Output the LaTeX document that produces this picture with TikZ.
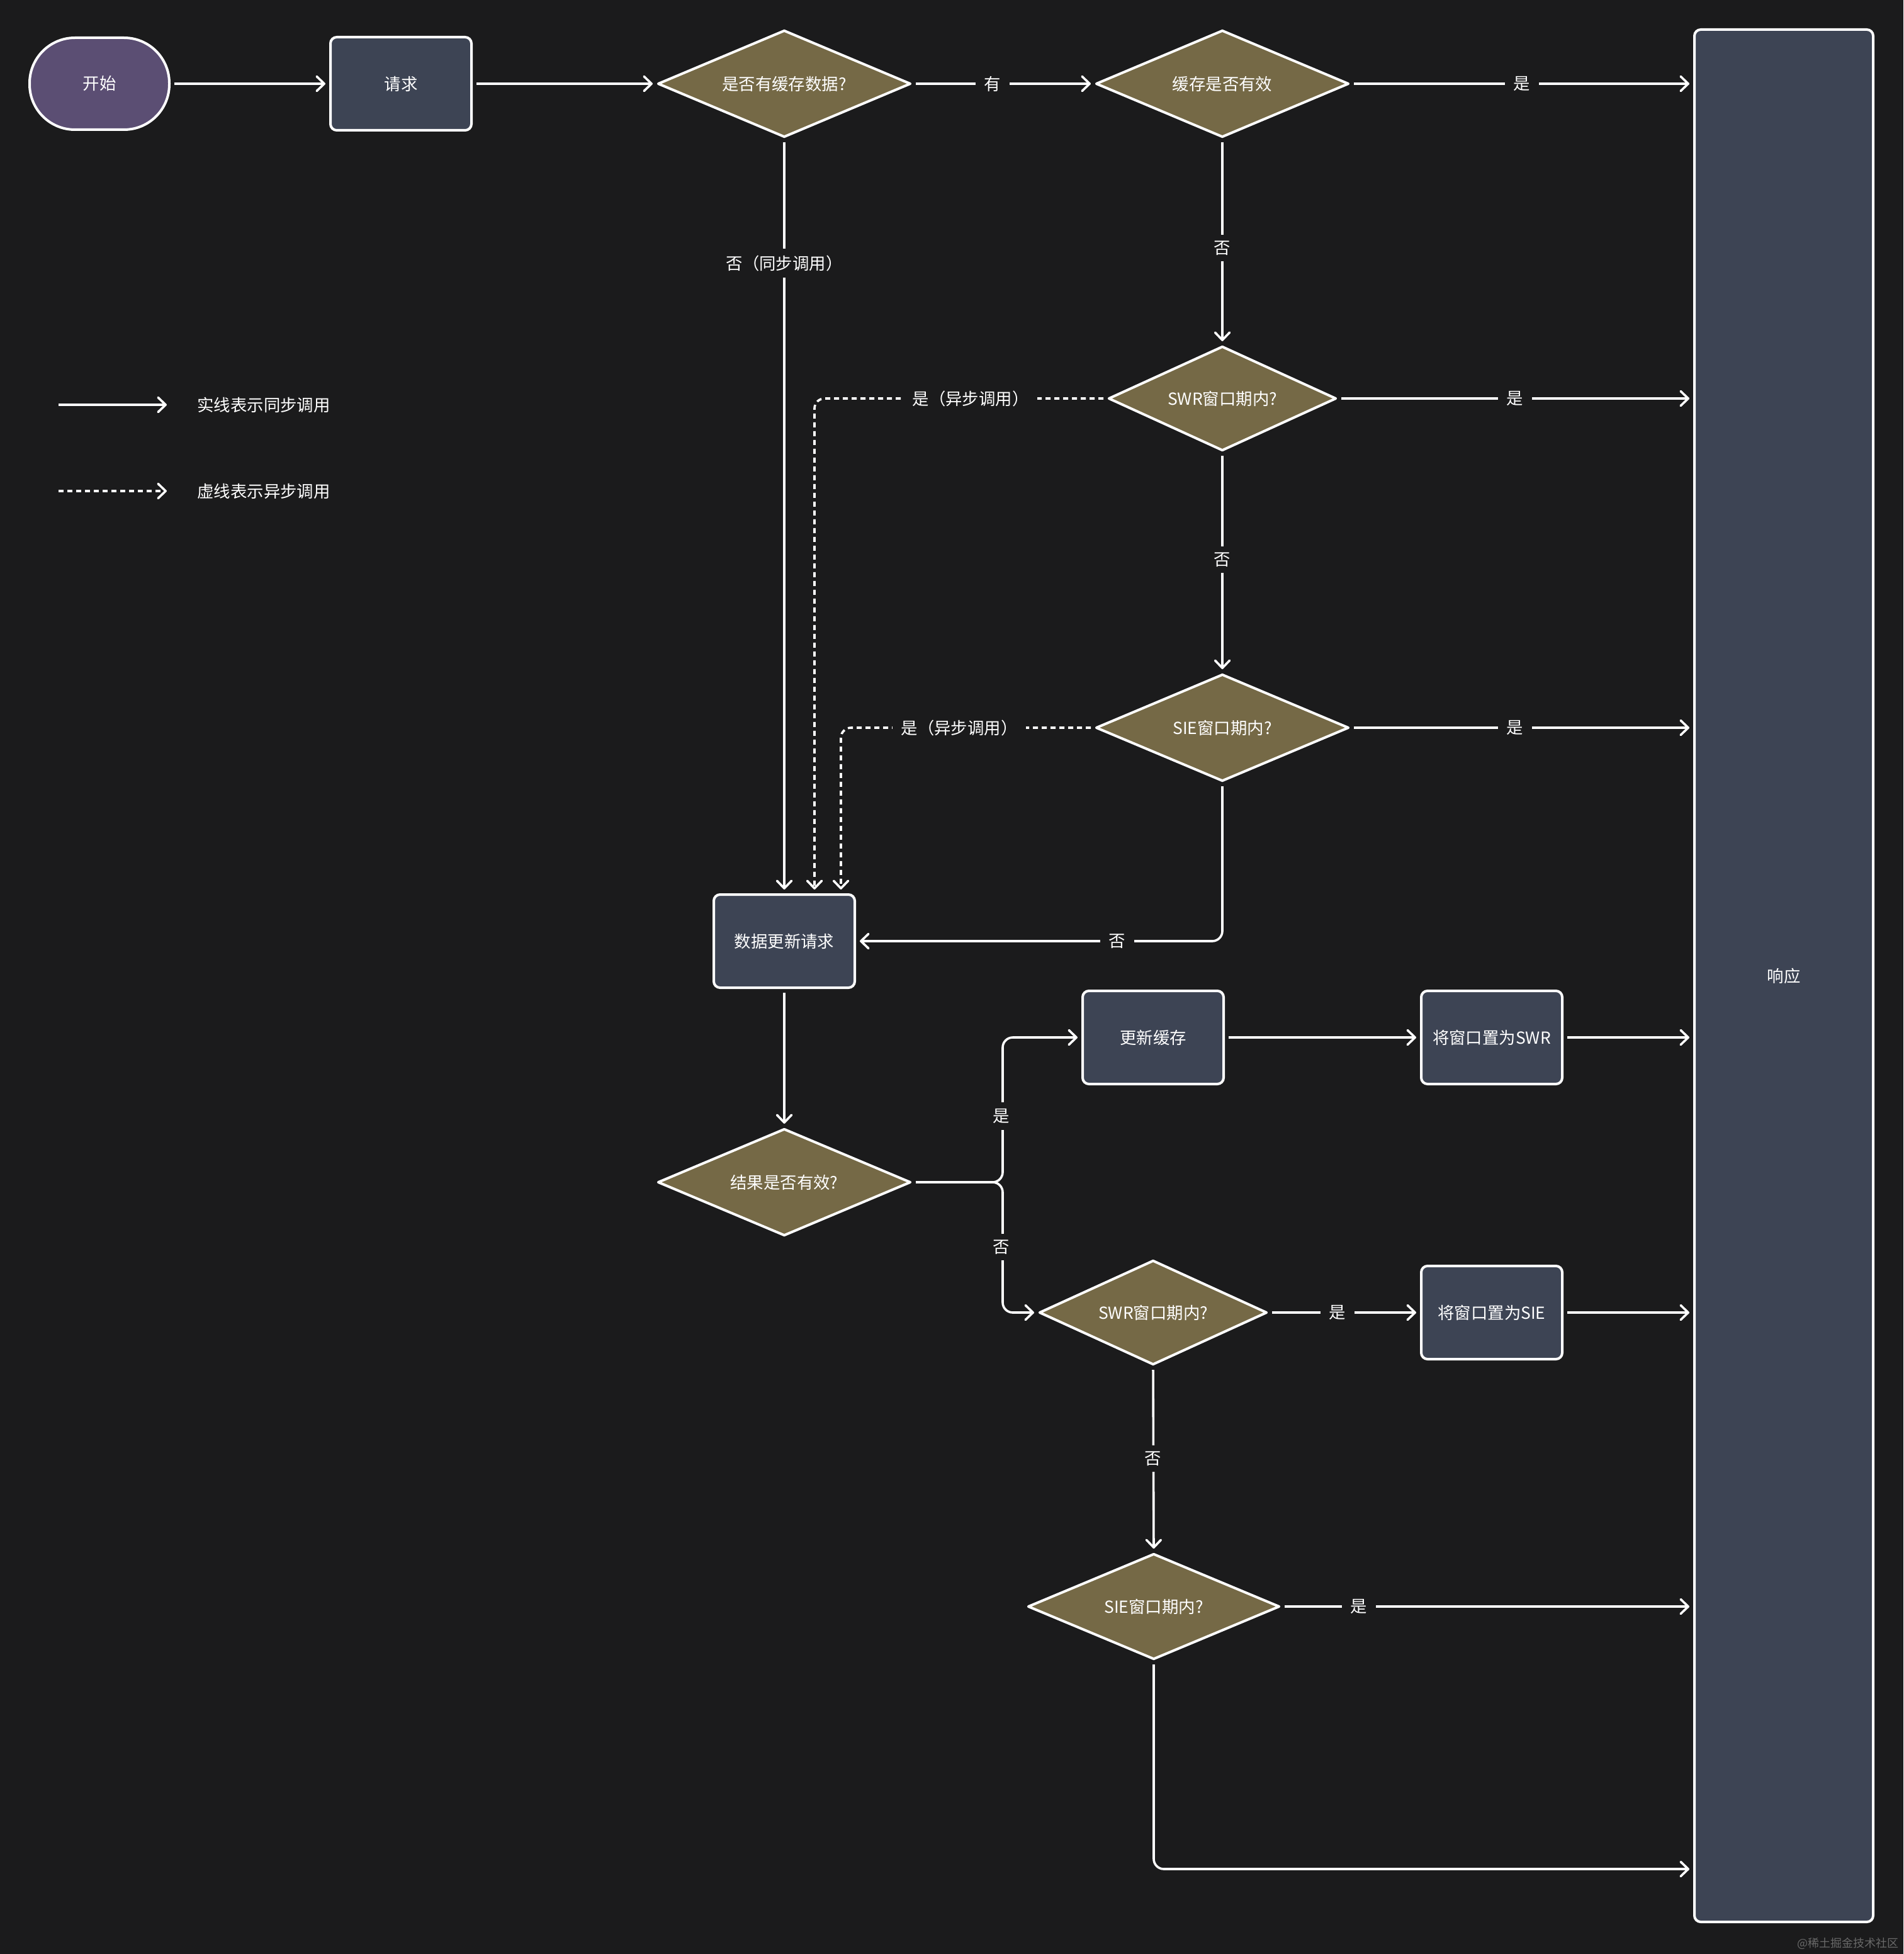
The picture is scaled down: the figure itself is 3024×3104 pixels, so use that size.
\documentclass[tikz,border=0pt]{standalone}
\usepackage{fontspec}
\setmainfont{Noto Sans CJK SC}
\usetikzlibrary{shapes.geometric,arrows.meta,calc}
\definecolor{bgc}{RGB}{27,27,28}
\definecolor{boxc}{RGB}{61,68,84}
\definecolor{diac}{RGB}{117,105,70}
\definecolor{startc}{RGB}{91,78,115}
\definecolor{wmc}{RGB}{105,105,105}
\begin{document}
\begin{tikzpicture}[x=0.5pt,y=-0.5pt,
 txt/.style={text=white,font=\fontsize{13.2}{15}\selectfont},
 boxn/.style={txt,draw=white,line width=2pt,fill=boxc,rounded corners=5pt,minimum width=112pt,minimum height=74pt,inner sep=0pt},
 startn/.style={txt,draw=white,line width=2pt,fill=startc,rounded corners=36pt,minimum width=111pt,minimum height=73pt,inner sep=0pt},
 bigdia/.style={txt,diamond,aspect=2.3,draw=white,line width=2pt,fill=diac,minimum width=201pt,minimum height=85pt,inner sep=0pt,line join=round},
 smalldia/.style={bigdia,minimum width=181pt,minimum height=83pt},
 conn/.style={draw=white,line width=1.8pt,-{Straight Barb[length=6pt,width=11.5pt,round]},shorten <=3pt,shorten >=3pt,rounded corners=8pt},
 async/.style={conn,dash pattern=on 4pt off 3pt},
 lab/.style={txt,fill=bgc,inner xsep=7pt,inner ysep=5pt},
]
\fill[bgc] (0,0) rectangle (3024,3104);
\useasboundingbox (0,0) rectangle (3024,3104);

% nodes
\node[startn] (start) at (158,133) {开始};
\node[boxn] (req) at (637,133) {请求};
\node[bigdia] (d1) at (1246,133) {是否有缓存数据?};
\node[bigdia] (d2) at (1942,133) {缓存是否有效};
\node[boxn,minimum width=142pt,minimum height=1503pt] (resp) at (2834,1550) {响应};
\node[smalldia] (swr1) at (1942,633) {SWR窗口期内?};
\node[bigdia] (sie1) at (1942,1156) {SIE窗口期内?};
\node[boxn] (upd) at (1246,1495) {数据更新请求};
\node[boxn] (uc) at (1832,1648) {更新缓存};
\node[boxn] (ws) at (2370,1648) {将窗口置为SWR};
\node[bigdia] (res) at (1246,1878) {结果是否有效?};
\node[smalldia] (swr2) at (1832,2085) {SWR窗口期内?};
\node[boxn] (wi) at (2370,2085) {将窗口置为SIE};
\node[bigdia,minimum width=200pt,minimum height=84pt] (sie2) at (1833,2552) {SIE窗口期内?};

\coordinate (br) at ($(res.east)+(144,0)$);
\coordinate (lowy) at (0,2969);

% connectors
\draw[conn] (start.east) -- (req.west);
\draw[conn] (req.east) -- (d1.west);
\draw[conn] (d1.east) -- (d2.west);
\draw[conn] (d2.east) -- (d2.east -| resp.west);
\draw[conn] (d1.south) -- (upd.north);
\draw[conn] (d2.south) -- (swr1.north);
\draw[conn] (swr1.east) -- (swr1.east -| resp.west);
\draw[async] (swr1.west) -| ($(upd.north)+(48,0)$);
\draw[conn] (swr1.south) -- (sie1.north);
\draw[conn] (sie1.east) -- (sie1.east -| resp.west);
\draw[async] (sie1.west) -| ($(upd.north)+(90,0)$);
\draw[conn] (sie1.south) |- (upd.east);
\draw[conn] (upd.south) -- (res.north);
\draw[conn] (res.east) -- (br) |- (uc.west);
\draw[conn] (res.east) -- (br) |- (swr2.west);
\draw[conn] (uc.east) -- (ws.west);
\draw[conn] (ws.east) -- (ws.east -| resp.west);
\draw[conn] (swr2.east) -- (wi.west);
\draw[conn] (wi.east) -- (wi.east -| resp.west);
\draw[conn] (swr2.south) -- (sie2.north);
\draw[conn] (sie2.east) -- (sie2.east -| resp.west);
\draw[conn] (sie2.south) |- (lowy -| resp.west);

% labels
\node[lab] (l1) at (1577,133) {有};
\node[lab] (l2) at (2418,133) {是};
\node[lab] (l3) at (1246,418) {否（同步调用）};
\node[lab] (l4) at (1942,394) {否};
\node[lab] (l5) at (2407,633) {是};
\node[lab] (l6) at (1542,633) {是（异步调用）};
\node[lab] (l7) at (1942,889) {否};
\node[lab] (l8) at (1524,1156) {是（异步调用）};
\node[lab] (l9) at (2407,1156) {是};
\node[lab] (l10) at (1775,1495) {否};
\node[lab] (l11) at (1591,1773) {是};
\node[lab] (l12) at (1591,1981) {否};
\node[lab] (l13) at (2125,2085) {是};
\node[lab] (l14) at (1832,2317) {否};
\node[lab] (l15) at (2159,2552) {是};

% legend
\coordinate (la1) at (93,643);
\coordinate (la2) at (271,643);
\coordinate (lb1) at (93,780);
\coordinate (lb2) at (271,780);
\draw[conn,shorten <=0pt] (la1) -- (la2);
\draw[async,shorten <=0pt] (lb1) -- (lb2);
\node[txt,anchor=west,inner sep=0pt] (lt1) at (313,643) {实线表示同步调用};
\node[txt,anchor=west,inner sep=0pt] (lt2) at (313,780) {虚线表示异步调用};

% watermark
\node[text=wmc,font=\fontsize{9}{10}\selectfont,inner sep=0pt] (wm) at (2936,3087) {@稀土掘金技术社区};
\end{tikzpicture}
\end{document}
